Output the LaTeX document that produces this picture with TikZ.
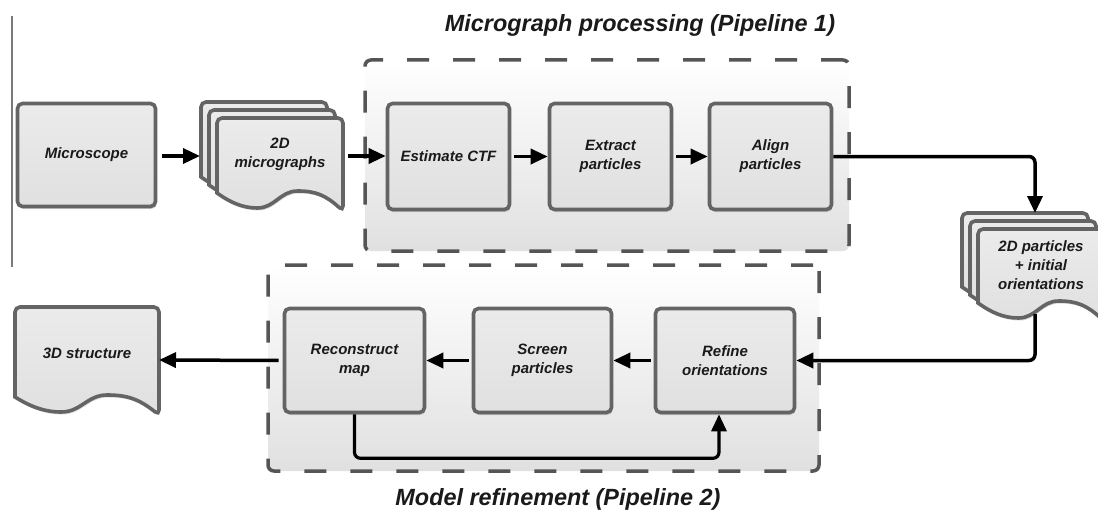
\documentclass[tikz,border=0pt]{standalone}
\usepackage{fontspec}
\setmainfont{Liberation Sans}
\usetikzlibrary{arrows.meta,shadows,calc}

\definecolor{bordergray}{HTML}{646464}
\definecolor{dashgray}{HTML}{555555}
\definecolor{boxfill}{HTML}{E0E0E0}
\definecolor{boxtop}{HTML}{EBEBEB}
\definecolor{txt}{HTML}{1A1A1A}
\definecolor{contbot}{HTML}{E0E0E0}
\definecolor{leftline}{HTML}{7A7A7A}

\newcommand{\boxfont}{\fontsize{15}{19}\selectfont\bfseries\itshape}
\newcommand{\ttlfont}{\fontsize{23.4}{27}\selectfont\bfseries\itshape}

\tikzset{
  stepbox/.style={draw=bordergray, line width=3.6, rounded corners=5,
    top color=boxtop, bottom color=boxfill, minimum width=138, minimum height=104,
    font=\boxfont, text=txt, align=center,
    drop shadow={opacity=0.3, shadow xshift=1pt, shadow yshift=-2.5pt}},
  docstyle/.style={draw=bordergray, line width=3.6, top color=boxtop, bottom color=boxfill,
    drop shadow={opacity=0.3, shadow xshift=1pt, shadow yshift=-2.5pt}},
  doctext/.style={font=\boxfont, text=txt, align=center},
  container/.style={draw=dashgray, line width=3.5, dash pattern=on 22pt off 24pt,
    rounded corners=6, top color=white, bottom color=contbot},
  ttl/.style={font=\ttlfont, text=txt},
  arr/.style={draw=black, line width=3.5, -{Triangle[length=17pt,width=15pt]}},
}

% x0, y0, x1, B (bottom of left edge); y grows downwards
\newcommand{\docsheet}[4]{%
  \path[docstyle] (#1,#4) [rounded corners=5] -- (#1,#2) -- (#3,#2) -- (#3,#4+18) [sharp corners]
    .. controls ({#1+0.86*(#3-#1)},#4+2) and ({#1+0.78*(#3-#1)},#4-2) .. ({#1+0.64*(#3-#1)},#4-2)
    .. controls ({#1+0.50*(#3-#1)},#4-2) and ({#1+0.46*(#3-#1)},#4+15) .. ({#1+0.32*(#3-#1)},#4+15)
    .. controls ({#1+0.20*(#3-#1)},#4+15) and ({#1+0.10*(#3-#1)},#4+9) .. cycle;}

\begin{document}
\begin{tikzpicture}[x=1pt,y=-1pt]
\clip (0,0) rectangle (1098,519);
\fill[white] (0,0) rectangle (1098,519);

% stray left rule
\draw[leftline, line width=2] (12,16) -- (12,267);

% titles
\node[ttl] (title1) at (640,25) {Micrograph processing (Pipeline 1)};
\node[ttl] (title2) at (558,499) {Model refinement (Pipeline 2)};

% containers
\node[container, minimum width=484, minimum height=191] (pipe1) at (607,155.5) {};
\node[container, minimum width=551, minimum height=206] (pipe2) at (543.5,368) {};

% top row
\node[stepbox, minimum width=138, minimum height=103] (mscope) at (86.5,155) {Microscope};

\docsheet{201}{102}{327}{177}
\docsheet{209}{110}{335}{185}
\docsheet{217}{118}{343}{193}
\node[doctext] (micro) at (280,154) {2D\\micrographs};
\coordinate (microIn) at (200,156);
\coordinate (microOut) at (343,156);

\node[stepbox, minimum width=122, minimum height=106] (ctf) at (448.5,156.5) {Estimate CTF};
\node[stepbox, minimum width=122, minimum height=106] (extract) at (610.5,156.5) {Extract\\particles};
\node[stepbox, minimum width=122, minimum height=106] (align) at (770.5,156.5) {Align\\particles};

% 2D particles stack
\docsheet{962}{213}{1088}{287}
\docsheet{970}{221}{1096}{295}
\docsheet{978}{229}{1104}{303}
\node[doctext] (parts) at (1041,265) {2D particles\\+ initial\\orientations};
\coordinate (partsIn) at (1035,213);
\coordinate (partsOut) at (1035,314);

% bottom row
\node[stepbox, minimum width=140, minimum height=104] (recon) at (354.5,360.5) {Reconstruct\\map};
\node[stepbox, minimum width=138, minimum height=104] (screen) at (542.5,360.5) {Screen\\particles};
\node[stepbox, minimum width=139, minimum height=104] (refine) at (725,360.5) {Refine\\orientations};

\docsheet{15}{307}{159}{397}
\node[doctext] (struct) at (87,353) {3D structure};
\coordinate (structIn) at (159,360);

% connectors
\draw[arr, shorten <=5pt] (mscope.east |- 0,156) -- (microIn);
\draw[arr, shorten <=5pt] (microOut) -- (ctf.west |- microOut);
\draw[arr, shorten <=3pt] (ctf.east) -- (extract.west);
\draw[arr, shorten <=3pt] (extract.east) -- (align.west);
\draw[arr, rounded corners=6] (align.east) -| (partsIn);
\draw[arr, rounded corners=6] (partsOut) |- (refine.east);
\draw[arr, shorten <=3pt] (refine.west) -- (screen.east);
\draw[arr, shorten <=3pt] (screen.west) -- (recon.east);
\draw[arr, shorten <=4pt] (recon.west) -- (structIn);
\draw[arr, line width=3.2, rounded corners=6] (recon.south) -- ++(0,44) -| ([xshift=-6pt]refine.south);
\end{tikzpicture}
\end{document}
